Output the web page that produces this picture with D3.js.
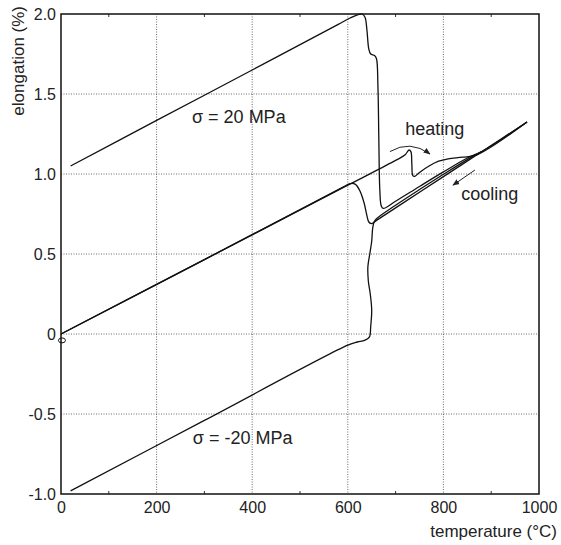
<!DOCTYPE html>
<html><head><meta charset="utf-8">
<script src="https://cdn.jsdelivr.net/npm/d3@7"></script>
<style>
body{margin:0;background:#fff;}
text{font-family:"Liberation Sans",Arial,sans-serif;fill:#222;}
</style></head>
<body><svg id="c" width="561" height="545"></svg>
<script>
// ---- data ----
const xTicks = [0, 200, 400, 600, 800, 1000];
const xMinor = [100, 300, 500, 700, 900];
const yTicks = [-1.0, -0.5, 0, 0.5, 1.0, 1.5, 2.0];
const yTickLabels = ["-1.0", "-0.5", "0", "0.5", "1.0", "1.5", "2.0"];

// heating, sigma = 20 MPa
const heat20T = [20, 200, 400, 580, 605, 620, 630, 636, 640, 644, 648, 656, 660, 663, 665, 667, 670, 674, 700, 750, 800, 850, 880, 975];
const heat20E = [1.05, 1.335, 1.65, 1.935, 1.975, 1.995, 2.0, 1.98, 1.9, 1.78, 1.75, 1.74, 1.72, 1.55, 1.2, 0.9, 0.8, 0.785, 0.83, 0.922, 1.013, 1.10, 1.14, 1.325];

// heating, sigma = 0
const heat0T = [0, 300, 600, 700, 720, 728, 732, 734, 736, 740, 750, 770, 790, 810, 840, 870, 975];
const heat0E = [0, 0.465, 0.93, 1.085, 1.12, 1.15, 1.14, 1.06, 0.99, 0.985, 1.01, 1.05, 1.08, 1.095, 1.105, 1.12, 1.325];

// heating, sigma = -20 MPa
const heatM20T = [20, 300, 600, 620, 635, 645, 648, 650, 647, 643, 642, 646, 650, 652, 655, 660, 700, 750, 800, 850, 880];
const heatM20E = [-0.98, -0.54, -0.07, -0.05, -0.04, -0.02, 0.05, 0.15, 0.25, 0.33, 0.42, 0.5, 0.58, 0.66, 0.70, 0.72, 0.805, 0.903, 0.998, 1.09, 1.14];

// cooling
const coolT = [975, 880, 800, 700, 660, 650, 644, 640, 634, 626, 616, 605, 590, 300, 0];
const coolE = [1.325, 1.1395, 0.9835, 0.7885, 0.71, 0.69, 0.70, 0.74, 0.82, 0.89, 0.935, 0.94, 0.918, 0.465, 0.0];

const labels = [
  {t: "σ = 20 MPa", x: 372, y: 1.35},
  {t: "σ = -20 MPa", x: 380, y: -0.66},
  {t: "heating", x: 782, y: 1.275},
  {t: "cooling", x: 897, y: 0.87}
];
// annotation arrows (data coords)
const heatArrow = [[688, 1.14], [730, 1.215], [772, 1.125]];
const coolArrow = [[866, 1.025], [820, 0.93]];

// ---- layout ----
const svg = d3.select("#c");
const L = 61, T = 14, W = 478, H = 480;
const x = d3.scaleLinear().domain([0, 1000]).range([L, L + W]);
const y = d3.scaleLinear().domain([-1, 2]).range([T + H, T]);

svg.append("defs").append("marker")
  .attr("id", "ah").attr("viewBox", "0 0 10 10").attr("refX", 9).attr("refY", 5)
  .attr("markerWidth", 7).attr("markerHeight", 7).attr("orient", "auto-start-reverse")
  .append("path").attr("d", "M0,1 L10,5 L0,9 z").attr("fill", "#222");

// grid
const g = svg.append("g");
g.selectAll(".gx").data(xTicks.filter(d => d > 0 && d < 1000)).join("line")
  .attr("x1", d => x(d)).attr("x2", d => x(d)).attr("y1", T).attr("y2", T + H)
  .attr("stroke", "#444").attr("stroke-width", 0.8).attr("stroke-dasharray", "1,1.5");
g.selectAll(".gy").data(yTicks.filter(d => d > -1 && d < 2)).join("line")
  .attr("y1", d => y(d)).attr("y2", d => y(d)).attr("x1", L).attr("x2", L + W)
  .attr("stroke", "#444").attr("stroke-width", 0.8).attr("stroke-dasharray", "1,1.5");

// axes
const xAxis = d3.axisBottom(x).tickValues(xTicks).tickFormat(d3.format("d")).tickSize(0).tickPadding(8);
const ax = svg.append("g").attr("transform", `translate(0,${T + H})`).call(xAxis);
ax.select(".domain").remove();
ax.selectAll("text").attr("font-size", 16).attr("font-family", "Liberation Sans, Arial, sans-serif").attr("fill", "#222");

const yAxis = d3.axisLeft(y).tickValues(yTicks).tickFormat((d, i) => yTickLabels[i]).tickSize(0).tickPadding(5);
const ay = svg.append("g").attr("transform", `translate(${L},0)`).call(yAxis);
ay.select(".domain").remove();
ay.selectAll("text").attr("font-size", 16).attr("font-family", "Liberation Sans, Arial, sans-serif").attr("fill", "#222");

// minor ticks top & bottom
svg.selectAll(".mt").data(xMinor).join("line")
  .attr("x1", d => x(d)).attr("x2", d => x(d)).attr("y1", T + H).attr("y2", T + H - 3)
  .attr("stroke", "#333").attr("stroke-width", 1);
svg.selectAll(".mt2").data(xMinor).join("line")
  .attr("x1", d => x(d)).attr("x2", d => x(d)).attr("y1", T).attr("y2", T + 3)
  .attr("stroke", "#333").attr("stroke-width", 1);

// curves
const line = d3.line().x(d => x(d[0])).y(d => y(d[1])).curve(d3.curveCatmullRom.alpha(0.5));
const curves = [
  d3.zip(heat20T, heat20E),
  d3.zip(heat0T, heat0E),
  d3.zip(heatM20T, heatM20E),
  d3.zip(coolT, coolE)
];
svg.selectAll(".cv").data(curves).join("path")
  .attr("d", line).attr("fill", "none").attr("stroke", "#111").attr("stroke-width", 1.3);

// origin marker
svg.append("ellipse").attr("cx", x(2)).attr("cy", y(-0.04)).attr("rx", 3.5).attr("ry", 2.5)
  .attr("fill", "none").attr("stroke", "#111").attr("stroke-width", 1);

// arrows
svg.append("path")
  .attr("d", `M${x(heatArrow[0][0])},${y(heatArrow[0][1])} Q${x(heatArrow[1][0])},${y(heatArrow[1][1])} ${x(heatArrow[2][0])},${y(heatArrow[2][1])}`)
  .attr("fill", "none").attr("stroke", "#222").attr("stroke-width", 1).attr("marker-end", "url(#ah)");
svg.append("line")
  .attr("x1", x(coolArrow[0][0])).attr("y1", y(coolArrow[0][1]))
  .attr("x2", x(coolArrow[1][0])).attr("y2", y(coolArrow[1][1]))
  .attr("stroke", "#222").attr("stroke-width", 1).attr("marker-end", "url(#ah)");

// labels
svg.selectAll(".lb").data(labels).join("text")
  .attr("x", d => x(d.x)).attr("y", d => y(d.y)).attr("text-anchor", "middle")
  .attr("dominant-baseline", "middle").attr("font-size", 18).text(d => d.t);

// frame
svg.append("rect").attr("x", L).attr("y", T).attr("width", W).attr("height", H)
  .attr("fill", "none").attr("stroke", "#111").attr("stroke-width", 1.5);

// axis titles
svg.append("text").attr("x", 557).attr("y", 533).attr("text-anchor", "end")
  .attr("dominant-baseline", "middle").attr("font-size", 17).text("temperature (°C)");
svg.append("text").attr("transform", "translate(24,6) rotate(-90)").attr("text-anchor", "end")
  .attr("font-size", 17).text("elongation (%)");
</script></body></html>
